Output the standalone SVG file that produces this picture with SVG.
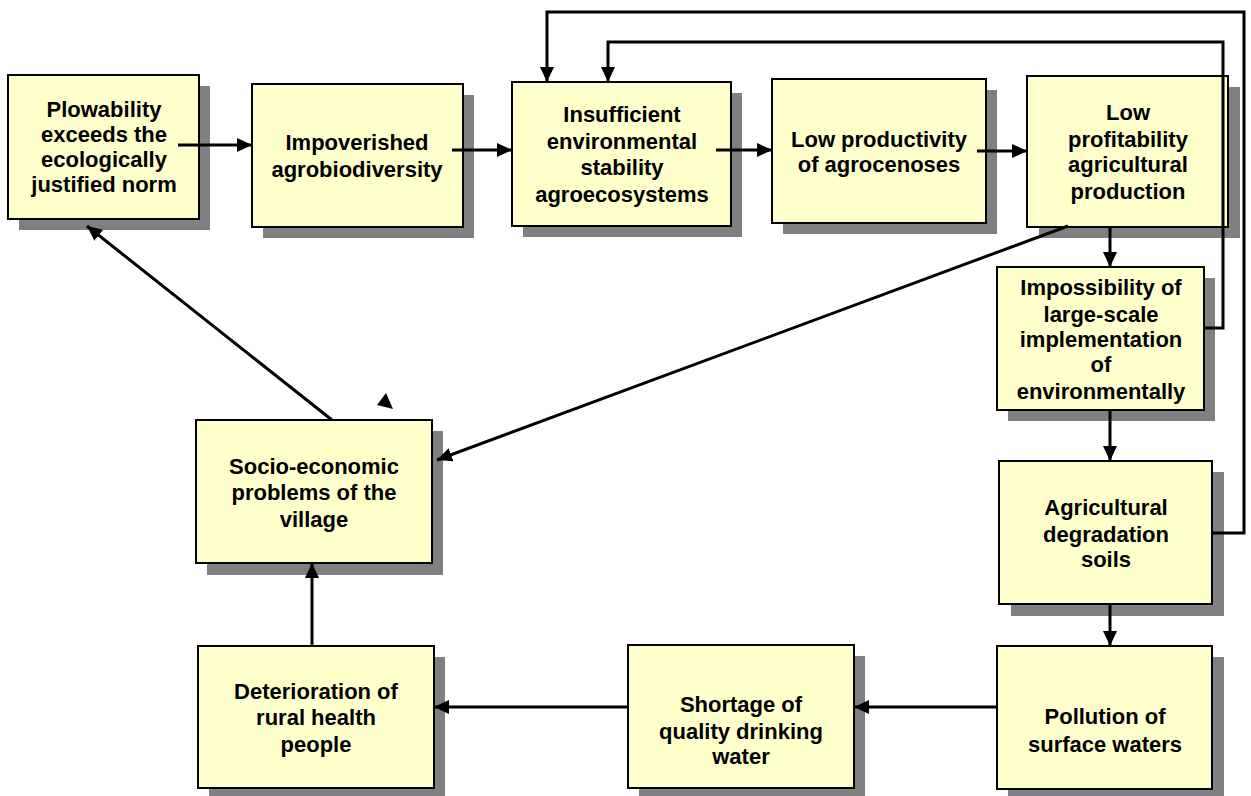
<svg xmlns="http://www.w3.org/2000/svg" width="1251" height="796" viewBox="0 0 1251 796">
<style>
.shadow{fill:#808080;}
.box{fill:#FFFFCC;stroke:#000;stroke-width:2;}
.t{font-family:"Liberation Sans",Arial,sans-serif;font-weight:bold;font-size:22px;fill:#000;text-anchor:middle;}
.c{fill:none;stroke:#000;stroke-width:3;}
.a{marker-end:url(#ah);}
</style>
<defs>
<marker id="ah" markerUnits="userSpaceOnUse" markerWidth="15" markerHeight="14" refX="15" refY="7" orient="auto">
<path d="M0,0 L15,7 L0,14 z" fill="#000"/>
</marker>
</defs>
<rect width="1251" height="796" fill="#fff"/>

<g id="n1"><rect class="shadow" x="19" y="86" width="191" height="144"/><rect class="box" x="8" y="75" width="191" height="144"/>
<text class="t" x="104"><tspan x="104" y="117">Plowability</tspan><tspan x="104" y="142">exceeds the</tspan><tspan x="104" y="167">ecologically</tspan><tspan x="104" y="192">justified norm</tspan></text></g>

<g id="n2"><rect class="shadow" x="263" y="95" width="211" height="143"/><rect class="box" x="252" y="84" width="211" height="143"/>
<text class="t"><tspan x="357" y="150">Impoverished</tspan><tspan x="357" y="177">agrobiodiversity</tspan></text></g>

<g id="n3"><rect class="shadow" x="523" y="93" width="219" height="144"/><rect class="box" x="512" y="82" width="219" height="144"/>
<text class="t"><tspan x="622" y="122">Insufficient</tspan><tspan x="622" y="149">environmental</tspan><tspan x="622" y="175">stability</tspan><tspan x="622" y="202">agroecosystems</tspan></text></g>

<g id="n4"><rect class="shadow" x="783" y="90" width="214" height="144"/><rect class="box" x="772" y="79" width="214" height="144"/>
<text class="t"><tspan x="879" y="147">Low productivity</tspan><tspan x="879" y="172">of agrocenoses</tspan></text></g>

<g id="n5"><rect class="shadow" x="1039" y="87" width="201" height="151"/><rect class="box" x="1027" y="76" width="201" height="151"/>
<text class="t"><tspan x="1128" y="120">Low</tspan><tspan x="1128" y="147">profitability</tspan><tspan x="1128" y="172">agricultural</tspan><tspan x="1128" y="199">production</tspan></text></g>

<g id="n6"><rect class="shadow" x="1008" y="278" width="207" height="143"/><rect class="box" x="997" y="267" width="207" height="143"/>
<text class="t"><tspan x="1101" y="295">Impossibility of</tspan><tspan x="1101" y="322">large-scale</tspan><tspan x="1101" y="347">implementation</tspan><tspan x="1101" y="372">of</tspan><tspan x="1101" y="399">environmentally</tspan></text></g>

<g id="n7"><rect class="shadow" x="1011" y="472" width="213" height="144"/><rect class="box" x="999" y="461" width="213" height="143"/>
<text class="t"><tspan x="1106" y="515">Agricultural</tspan><tspan x="1106" y="542">degradation</tspan><tspan x="1106" y="567">soils</tspan></text></g>

<g id="n8"><rect class="shadow" x="1008" y="657" width="216" height="143"/><rect class="box" x="997" y="646" width="215" height="143"/>
<text class="t"><tspan x="1105" y="724">Pollution of</tspan><tspan x="1105" y="752">surface waters</tspan></text></g>

<g id="n9"><rect class="shadow" x="639" y="656" width="226" height="143"/><rect class="box" x="628" y="645" width="226" height="143"/>
<text class="t"><tspan x="741" y="712">Shortage of</tspan><tspan x="741" y="739">quality drinking</tspan><tspan x="741" y="764">water</tspan></text></g>

<g id="n10"><rect class="shadow" x="209" y="657" width="236" height="142"/><rect class="box" x="198" y="646" width="236" height="142"/>
<text class="t"><tspan x="316" y="699">Deterioration of</tspan><tspan x="316" y="725">rural health</tspan><tspan x="316" y="752">people</tspan></text></g>

<g id="n11"><rect class="shadow" x="207" y="431" width="236" height="144"/><rect class="box" x="196" y="420" width="236" height="143"/>
<text class="t"><tspan x="314" y="474">Socio-economic</tspan><tspan x="314" y="500">problems of the</tspan><tspan x="314" y="527">village</tspan></text></g>

<g id="connectors">
<line class="c a" x1="178" y1="145" x2="252" y2="145"/>
<line class="c a" x1="452" y1="150" x2="512" y2="150"/>
<line class="c a" x1="716" y1="150" x2="772" y2="150"/>
<line class="c a" x1="977" y1="151" x2="1027" y2="151"/>
<line class="c a" x1="1110" y1="227" x2="1110" y2="267"/>
<line class="c a" x1="1110" y1="410" x2="1110" y2="461"/>
<line class="c a" x1="1110" y1="604" x2="1110" y2="646"/>
<line class="c a" x1="997" y1="707" x2="854" y2="707"/>
<line class="c a" x1="628" y1="707" x2="434" y2="707"/>
<line class="c a" x1="312" y1="646" x2="312" y2="563"/>
<line class="c a" x1="332" y1="420" x2="87" y2="226"/>
<line class="c a" x1="1068" y1="226" x2="437" y2="460"/>
<polyline class="c a" points="1212,533 1244,533 1244,12 547,12 547,82"/>
<polyline class="c a" points="1204,328 1223,328 1223,42 608,42 608,82"/>
<polygon points="386,393 377,405 393,409" fill="#000"/>
</g>
</svg>
